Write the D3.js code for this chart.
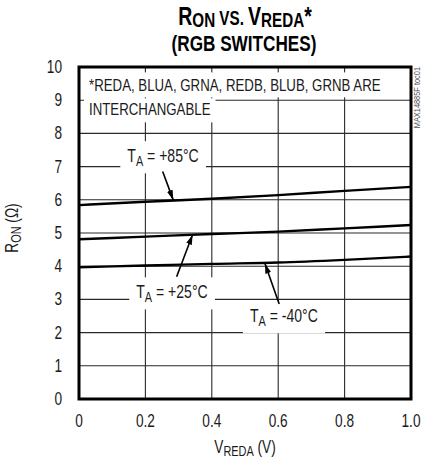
<!DOCTYPE html>
<html><head><meta charset="utf-8">
<script src="https://cdn.jsdelivr.net/npm/d3@7/dist/d3.min.js"></script>
<style>
body{margin:0;background:#fff;}
text{font-family:"Liberation Sans",Arial,sans-serif;}
</style></head><body>
<svg id="c" width="422" height="464"></svg>
<script>
const vreda = [0, 0.2, 0.4, 0.6, 0.8, 1.0];
const r85  = [5.84, 5.94, 6.03, 6.14, 6.27, 6.39];
const r25  = [4.81, 4.89, 4.97, 5.04, 5.14, 5.24];
const rm40 = [3.97, 4.02, 4.07, 4.11, 4.19, 4.29];
const xTicks = [0, 0.2, 0.4, 0.6, 0.8, 1.0];
const xTickLabels = ["0", "0.2", "0.4", "0.6", "0.8", "1.0"];
const yTicks = [0,1,2,3,4,5,6,7,8,9,10];
const seriesNames = ["+85°C", "+25°C", "-40°C"];
// annotation: label center/baseline, arrow tail, arrow tip (data coords)
const labelPos = [[0.253, 7.14], [0.28, 3.04], [0.617, 2.32]];
const arrowTail = [[0.252, 6.85], [0.294, 3.68], [0.603, 2.86]];
const arrowTip  = [[0.284, 5.99], [0.342, 4.95], [0.560, 4.08]];

const SX = 0.78; // condensed look
const svg = d3.select("#c");
const L = 79, R = 411, T = 67, B = 399;
const x = d3.scaleLinear().domain([0, 1]).range([L, R]);
const y = d3.scaleLinear().domain([0, 10]).range([B, T]);

function ctext(parent, tx, ty, anchor, size, extraTransform) {
  return parent.append("text")
    .attr("transform", `translate(${tx},${ty}) ${extraTransform || ""} scale(${SX},1)`)
    .attr("text-anchor", anchor).attr("font-size", size).attr("fill", "#1a1a1a");
}

// grid
const g = svg.append("g");
g.selectAll("line.v").data(xTicks.slice(1, -1)).join("line")
  .attr("x1", d => x(d)).attr("x2", d => x(d)).attr("y1", T).attr("y2", B)
  .attr("stroke", "#2a2a2a").attr("stroke-width", 1.1);
g.selectAll("line.h").data(yTicks.slice(1, -1)).join("line")
  .attr("x1", L).attr("x2", R).attr("y1", d => y(d)).attr("y2", d => y(d))
  .attr("stroke", "#2a2a2a").attr("stroke-width", 1.1);

// white-boxed text
function boxedText(tx, ty, anchor, size, build, padX, padT, padB, extraR) {
  const gg = svg.append("g").attr("transform", `translate(${tx},${ty}) scale(${SX},1)`);
  const rect = gg.append("rect").attr("fill", "#fff");
  const t = gg.append("text").attr("text-anchor", anchor)
    .attr("font-size", size).attr("fill", "#1a1a1a");
  build(t);
  const bb = t.node().getBBox();
  rect.attr("x", bb.x - padX / SX).attr("y", bb.y - padT)
    .attr("width", bb.width + (2 * padX + (extraR || 0)) / SX).attr("height", bb.height + padT + padB);
  return gg;
}

// note
boxedText(89, 91, "start", 17, t => t.text("*REDA, BLUA, GRNA, REDB, BLUB, GRNB ARE"), 5, 3, 3, 15);
boxedText(89, 115, "start", 17, t => t.text("INTERCHANGABLE"), 5, 1, 4, 0);

// curves
const line = d3.line().x(d => x(d[0])).y(d => y(d[1])).curve(d3.curveMonotoneX);
[r85, r25, rm40].forEach(s => {
  svg.append("path").datum(vreda.map((v, i) => [v, s[i]])).attr("d", line)
    .attr("fill", "none").attr("stroke", "#000").attr("stroke-width", 2.4);
});

// labels
seriesNames.forEach((n, i) => {
  boxedText(x(labelPos[i][0]), y(labelPos[i][1]), "middle", 18, t => {
    t.append("tspan").text("T");
    t.append("tspan").attr("font-size", 14).attr("dy", 4).text("A");
    t.append("tspan").attr("dy", -4).text(" = " + n);
  }, 7, 4, 4, 0);
});

// arrows
svg.append("defs").append("marker").attr("id", "ah").attr("viewBox", "0 0 10 6")
  .attr("refX", 10).attr("refY", 3).attr("markerWidth", 10).attr("markerHeight", 6)
  .attr("markerUnits", "userSpaceOnUse").attr("orient", "auto")
  .append("path").attr("d", "M0,0 L10,3 L0,6 Z").attr("fill", "#000");
arrowTail.forEach((a, i) => {
  svg.append("line").attr("x1", x(a[0])).attr("y1", y(a[1]))
    .attr("x2", x(arrowTip[i][0])).attr("y2", y(arrowTip[i][1]))
    .attr("stroke", "#000").attr("stroke-width", 1.6).attr("marker-end", "url(#ah)");
});

// frame
svg.append("rect").attr("x", L).attr("y", T).attr("width", R - L).attr("height", B - T)
  .attr("fill", "none").attr("stroke", "#000").attr("stroke-width", 3);

// tick labels
yTicks.forEach(d => ctext(svg, 62, y(d) + 6, "end", 17.5).text(d));
xTicks.forEach((d, i) => ctext(svg, x(d), 427, "middle", 17.5).text(xTickLabels[i]));

// axis titles
const xt = ctext(svg, 245, 453, "middle", 17.5);
xt.append("tspan").text("V");
xt.append("tspan").attr("font-size", 14).attr("dy", 3).text("REDA");
xt.append("tspan").attr("dy", -3).text(" (V)");

const yt = ctext(svg, 18, 228, "middle", 17.5, "rotate(-90)");
yt.append("tspan").text("R");
yt.append("tspan").attr("font-size", 14).attr("dy", 3).text("ON");
yt.append("tspan").attr("dy", -3).text(" (Ω)");

// watermark
ctext(svg, 420, 67, "end", 9.5, "rotate(-90)").attr("fill", "#555").text("MAX14885F toc01");

// title
const t1 = ctext(svg, 245, 25, "middle", 25).attr("font-weight", "bold").attr("fill", "#000");
t1.append("tspan").text("R");
t1.append("tspan").attr("font-size", 19.5).attr("dy", 2).text("ON");
t1.append("tspan").attr("font-size", 19.5).attr("dy", -2).text(" VS. ");
t1.append("tspan").text("V");
t1.append("tspan").attr("font-size", 19.5).attr("dy", 2).text("REDA");
t1.append("tspan").attr("dy", -2).text("*");
ctext(svg, 244, 51, "middle", 22).attr("font-weight", "bold").attr("fill", "#000").text("(RGB SWITCHES)");
</script></body></html>
